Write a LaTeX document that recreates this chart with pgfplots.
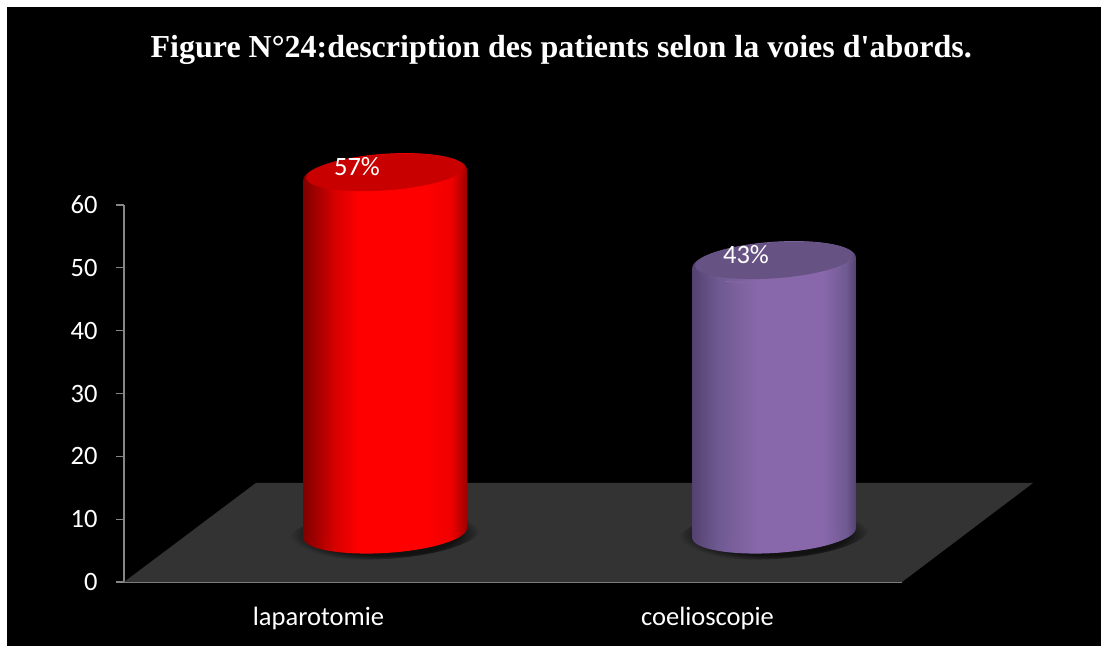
\documentclass[border=0pt]{standalone}
\usepackage{pgfplots}
\pgfplotsset{compat=1.18}
\usepackage{fontspec}
\setmainfont{Carlito}
\newfontfamily\titlefont{Liberation Serif}
\definecolor{floorc}{HTML}{333333}
\definecolor{axisc}{HTML}{868686}
\pgfdeclarehorizontalshading{redcyl}{100bp}{color(0bp)=(red!50!black);color(25bp)=(red!50!black);color(35bp)=(red!85!black);color(42bp)=(red);color(62bp)=(red);color(70bp)=(red!94!black);color(75bp)=(red!62!black);color(100bp)=(red!62!black)}
\definecolor{pdark}{HTML}{54416F}
\definecolor{pmid}{HTML}{6F5A91}
\definecolor{plight}{HTML}{8868AA}
\pgfdeclarehorizontalshading{purcyl}{100bp}{color(0bp)=(pdark);color(25bp)=(pdark);color(33bp)=(pmid);color(45bp)=(plight);color(65bp)=(plight);color(72bp)=(pmid);color(75bp)=(pdark);color(100bp)=(pdark)}
\pgfdeclareradialshading{baseshadow}{\pgfpointorigin}{color(0bp)=(black!65!floorc);color(19bp)=(black!65!floorc);color(25bp)=(floorc);color(50bp)=(floorc)}
% tilted point, in pt: cosine \Cc, sine \Ss
\newcommand{\rpt}[2]{({\Cc*(#1)*1pt-\Ss*(#2)*1pt},{\Ss*(#1)*1pt+\Cc*(#2)*1pt})}
% tilted ellipse: #1,#2 centre, #3,#4 radii
\newcommand{\ellp}[4]{\rpt{#1-#3}{#2}
 .. controls \rpt{#1-#3}{#2+0.5523*#4} and \rpt{#1-0.5523*#3}{#2+#4} .. \rpt{#1}{#2+#4}
 .. controls \rpt{#1+0.5523*#3}{#2+#4} and \rpt{#1+#3}{#2+0.5523*#4} .. \rpt{#1+#3}{#2}
 .. controls \rpt{#1+#3}{#2-0.5523*#4} and \rpt{#1+0.5523*#3}{#2-#4} .. \rpt{#1}{#2-#4}
 .. controls \rpt{#1-0.5523*#3}{#2-#4} and \rpt{#1-#3}{#2-0.5523*#4} .. cycle}
\newcommand{\tiltbase}{\def\Cc{0.99813}\def\Ss{0.06105}}
\newcommand{\tilttop}{\def\Cc{0.99756}\def\Ss{0.06976}}
\pgfdeclareplotmark{shadowcap}{\tiltbase\path[draw=none,shading=baseshadow] \ellp{0}{-1}{95}{25};}
\pgfdeclareplotmark{redbase}{\tiltbase\path[draw=none,shading=redcyl] \ellp{0}{0}{82}{20};}
\pgfdeclareplotmark{purbase}{\tiltbase\path[draw=none,shading=purcyl] \ellp{0}{0}{82}{20};}
\pgfdeclareplotmark{redtop}{\tilttop
  \path[draw=none,shading=redcyl] \ellp{0}{0}{82}{21};
  \path[draw=none,fill={rgb,255:red,200;green,0;blue,0}] \ellp{0}{2.5}{79}{18};}
\pgfdeclareplotmark{purtop}{\tilttop
  \path[draw=none,shading=purcyl] \ellp{0}{0}{82}{21};
  \path[draw=none,fill={rgb,255:red,103;green,82;blue,132}] \ellp{0}{2.5}{79}{18};
  \draw[plight,line width=0.8pt] \rpt{-50}{-15} .. controls \rpt{-17}{-21} and \rpt{17}{-21} .. \rpt{50}{-15};}
\pgfplotsset{cylaxis/.style={
  at={(124pt,64pt)},anchor=south west,
  width=778pt,height=377pt,scale only axis,
  xmin=-0.671,xmax=1.329,ymin=-7.8,ymax=52.2,
  clip=false,hide axis}}
\begin{document}
\begin{tikzpicture}[x=1pt,y=1pt]
\fill[white] (0,0) rectangle (1101,646);
\fill[black] (7,0) rectangle (1101,639);
\begin{axis}[
  at={(124pt,64pt)},anchor=south west,
  width=778pt,height=377pt,scale only axis,
  xmin=-0.5,xmax=1.5,ymin=0,ymax=60,
  clip=false,
  axis lines=left,
  axis line style={-,axisc,line width=1.5pt},
  xtick={0,1},xticklabels={laparotomie,coelioscopie},
  ytick={0,10,20,30,40,50,60},
  xtick style={draw=none},
  ytick style={axisc,line width=1.2pt},
  tick align=outside,major tick length=8pt,
  /pgf/number format/assume math mode=true,
  tick label style={white,font=\fontsize{26.5}{30}\selectfont},
  xticklabel style={yshift=-14pt},
  yticklabel style={xshift=-15pt},
  title={\titlefont\bfseries\fontsize{32}{36}\selectfont Figure N°24:description des patients selon la voies d'abords.},
  title style={white,at={(axis description cs:0.562,1.395)},anchor=center},
]
\addplot[fill=floorc,draw=none,forget plot] coordinates {(-0.5,0) (1.5,0) (1.837,15.76) (-0.161,15.76)} --cycle;
\end{axis}
\begin{axis}[cylaxis]
\addplot[only marks,mark=shadowcap] coordinates {(0,0) (1,0)};
\addplot[only marks,mark=redbase] coordinates {(0,0)};
\addplot[only marks,mark=purbase] coordinates {(1,0)};
\end{axis}
\begin{axis}[cylaxis,
  nodes near coords style={white,font=\fontsize{26.5}{30}\selectfont,anchor=center,xshift=-28pt,yshift=8pt},
]
% cylinder bodies: value 57 and 43 at the centre, the top and bottom edges follow the tilt of the ellipses
\addplot[draw=none,shading=redcyl] coordinates {(-0.2108,-0.8) (-0.2108,56.09) (0.2108,57.91) (0.2108,0.8)} --cycle;
\addplot[draw=none,shading=purcyl] coordinates {(0.7892,-0.8) (0.7892,42.09) (1.2108,43.91) (1.2108,0.8)} --cycle;
\addplot[only marks,mark=redtop] coordinates {(0,57)};
\addplot[only marks,mark=purtop] coordinates {(1,43)};
\addplot[only marks,mark=none,point meta=y,
  nodes near coords={\pgfmathprintnumber[assume math mode=true]{\pgfplotspointmeta}\%}] coordinates {(0,57) (1,43)};
\end{axis}
\end{tikzpicture}
\end{document}
